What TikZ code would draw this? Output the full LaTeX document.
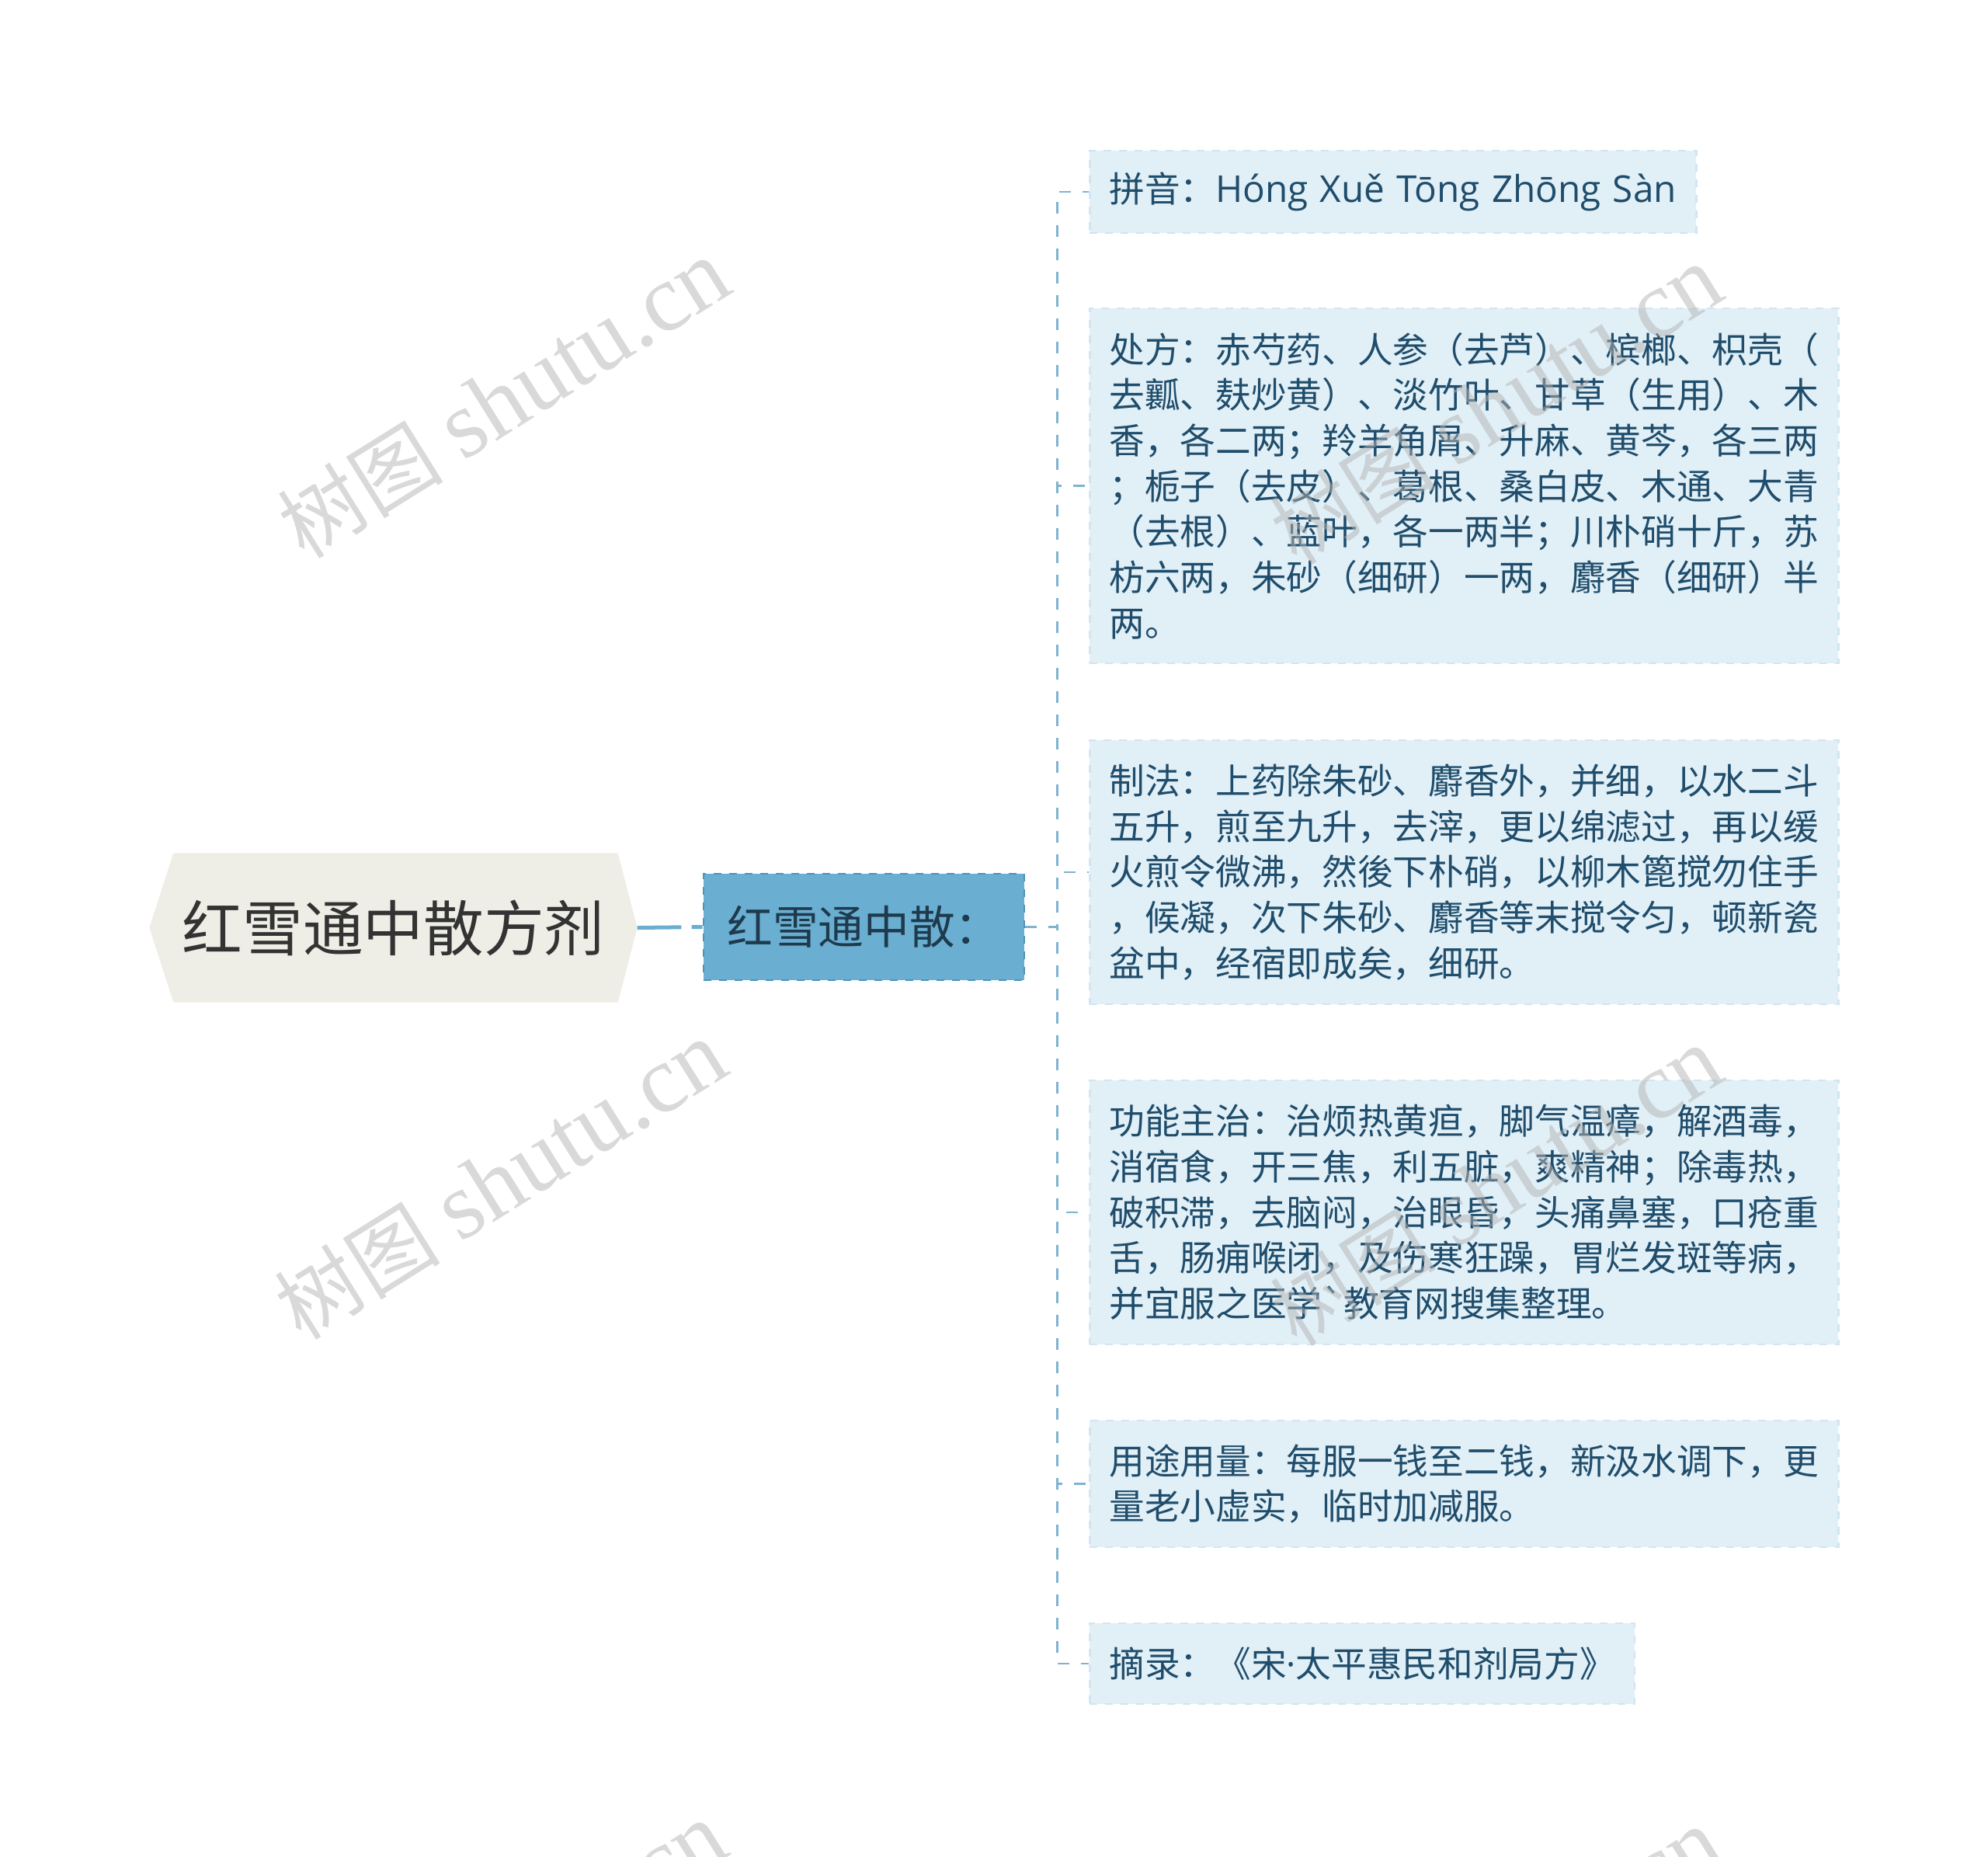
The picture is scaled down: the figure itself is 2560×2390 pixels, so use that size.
\documentclass[tikz,border=0pt]{standalone}
\usepackage{fontspec}
\setmainfont{Noto Sans CJK SC}
\newfontfamily\cjkfont{Noto Sans CJK SC}
\newfontfamily\rawfont{Noto Sans CJK SC}[Ligatures=TeXOff]
\newfontfamily\latinfont{Open Sans}
\newfontfamily\wmserif{Liberation Serif}
\usetikzlibrary{calc,backgrounds}
\definecolor{leaffill}{HTML}{E1EFF7}
\definecolor{leafborder}{HTML}{D2E5F0}
\definecolor{leaftext}{HTML}{1F4D6B}
\definecolor{midfill}{HTML}{6AAED1}
\definecolor{midborder}{HTML}{4F93B8}
\definecolor{midtext}{HTML}{1E3A4C}
\definecolor{rootfill}{HTML}{EEEEE6}
\definecolor{roottext}{HTML}{333333}
\definecolor{linecol}{HTML}{6AAED1}
\definecolor{trunkcol}{HTML}{7FB3D0}
\definecolor{wmcol}{HTML}{B4B4B4}
\tikzset{
  leafbox/.style={fill=leaffill, draw=leafborder, dashed, line width=0.8pt,
    text=leaftext, font=\fontsize{13.7}{17.6}\selectfont, inner xsep=7.5pt,
    inner ysep=0pt, anchor=west, align=left},
  leafwide/.style={leafbox, text width=274.2pt},
  midbox/.style={fill=midfill, draw=midborder, dashed, line width=0.8pt,
    text=midtext, font=\fontsize{17.6}{20}\selectfont, inner sep=0pt,
    minimum width=123.9pt, minimum height=41.1pt},
  rootbox/.style={text=roottext, font=\fontsize{23.3}{26}\selectfont,
    inner sep=0pt, minimum width=188.1pt, minimum height=57.3pt},
  rootlink/.style={draw=linecol, line width=1.5pt, dash pattern=on 17pt off 4pt},
  branch/.style={draw=trunkcol, line width=0.8pt, dash pattern=on 4.5pt off 4.5pt},
  wm/.style={text=wmcol, text opacity=0.5, inner sep=0pt}
}
\begin{document}
\begin{tikzpicture}[x=0.3pt,y=-0.3pt]
\useasboundingbox (0,0) rectangle (2560,2390);
% root
\node[rootbox] (root) at (506.5,1194.5) {红雪通中散方剂};
\begin{scope}[on background layer]
\fill[rootfill] (root.west) -- ($(root.north west)+(31,0)$) -- ($(root.north east)+(-25,0)$)
  -- (root.east) -- ($(root.south east)+(-25,0)$) -- ($(root.south west)+(31,0)$) -- cycle;
\end{scope}
% middle
\node[midbox] (mid) at (1112.5,1193.5) {红雪通中散：};
% leaves
\node[leafbox, minimum height=31.8pt, text width=219.3pt] (n1) at (1402,247) {拼音：{\latinfont\fontsize{14.3}{17.6}\selectfont Hóng Xuě Tōng Zhōng Sàn}};
\node[leafwide, minimum height=137.1pt] (n2) at (1402,625.5) {处方：赤芍药、人参（去芦）、槟榔、枳壳（\\去瓤、麸炒黄）、淡竹叶、甘草（生用）、木\\香，各二两；羚羊角屑、升麻、黄芩，各三两\\；栀子（去皮）、葛根、桑白皮、木通、大青\\（去根）、蓝叶，各一两半；川朴硝十斤，苏\\枋六两，朱砂（细研）一两，麝香（细研）半\\两。};
\node[leafwide, minimum height=102pt] (n3) at (1402,1123) {制法：上药除朱砂、麝香外，并细，以水二斗\\五升，煎至九升，去滓，更以绵滤过，再以缓\\火煎令微沸，然後下朴硝，以柳木篦搅勿住手\\，候凝，次下朱砂、麝香等末搅令匀，顿新瓷\\盆中，经宿即成矣，细研。};
\node[leafwide, minimum height=102pt] (n4) at (1402,1561) {功能主治：治烦热黄疸，脚气温瘴，解酒毒，\\消宿食，开三焦，利五脏，爽精神；除毒热，\\破积滞，去脑闷，治眼昏，头痛鼻塞，口疮重\\舌，肠痈喉闭，及伤寒狂躁，胃烂发斑等病，\\并宜服之医学{\rawfont `}教育网搜集整理。};
\node[leafwide, minimum height=48.9pt] (n5) at (1402,1910.5) {用途用量：每服一钱至二钱，新汲水调下，更\\量老小虚实，临时加减服。};
\node[leafbox, minimum height=31.2pt] (n6) at (1402,2142) {摘录：《宋{\latinfont ·}太平惠民和剂局方》};
% connectors
\draw[rootlink] (root.east) -- (mid.west);
\foreach \n in {n1,n2,n3,n4,n5,n6}{
  \draw[branch] (mid.east) -- ++(41,0) |- (\n.west);
}
% watermarks
\begin{scope}
\clip (0,0) rectangle (2560,2390);
\foreach \p in {(649,514),(645,1520),(645,2526),(1927,522),(1927,1528),(1927,2534)}{
  \node[wm, rotate=32] at \p {{\cjkfont\fontsize{32}{36}\selectfont 树图}\hspace{8pt}{\wmserif\fontsize{37}{42}\selectfont shutu.cn}};
}
\end{scope}
\end{tikzpicture}
\end{document}
